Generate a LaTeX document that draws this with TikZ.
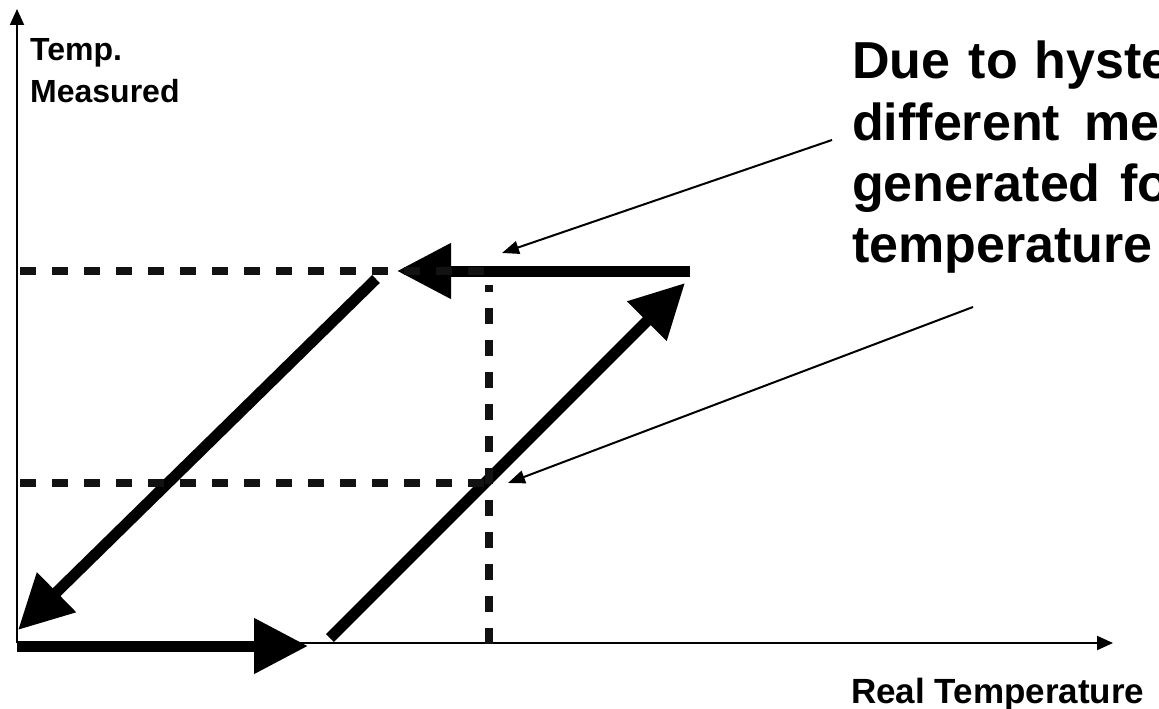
\documentclass[tikz,border=0pt]{standalone}
\usepackage{fontspec}
\setmainfont{Liberation Sans}
\usetikzlibrary{arrows.meta}
\begin{document}
\begin{tikzpicture}[x=1pt,y=-1pt,
  axis/.style={line width=2pt,-{Triangle[length=16pt,width=14pt]}},
  bigarrow/.style={line width=11pt,-{Triangle[length=54pt,width=53pt]}},
  guide/.style={line width=8pt,dash pattern=on 16pt off 16pt,black!93},
  callout/.style={line width=2pt,-{Triangle[length=17pt,width=13pt]}},
  small/.style={font=\bfseries\fontsize{32}{42}\selectfont,anchor=base west,inner sep=0pt},
  big/.style={font=\bfseries\fontsize{52}{61}\selectfont,anchor=base west,inner sep=0pt},
  axlabel/.style={font=\bfseries\fontsize{35}{42}\selectfont,anchor=base west,inner sep=0pt},
]
\useasboundingbox (0,0) rectangle (1159,709);
% coordinates
\coordinate (O) at (17,643);
\coordinate (Ytop) at (17,9);
\coordinate (Xend) at (1113,643);
\coordinate (b1) at (17,646);
\coordinate (b2) at (308,646);
\coordinate (u1) at (330,638);
\coordinate (u2) at (685,283);
\coordinate (t1) at (690,271);
\coordinate (t2) at (397,271);
\coordinate (d1) at (376,279);
\coordinate (d2) at (18,630);
\coordinate (h1s) at (20,271);
\coordinate (h1e) at (489,271);
\coordinate (h2s) at (20,483);
\coordinate (h2e) at (489,483);
\coordinate (vs) at (489,644);
\coordinate (ve) at (489,285);
\coordinate (c1s) at (832,140);
\coordinate (c1e) at (502,253);
\coordinate (c2s) at (973,307);
\coordinate (c2e) at (508,483);
% axes
\draw[axis] (O) -- (Ytop);
\draw[axis] (O) -- (Xend);
% hysteresis arrows
\draw[bigarrow] (b1) -- (b2);
\draw[bigarrow] (u1) -- (u2);
\draw[bigarrow] (t1) -- (t2);
\draw[bigarrow] (d1) -- (d2);
% guide lines
\draw[guide] (h1s) -- (h1e);
\draw[guide] (h2s) -- (h2e);
\draw[guide] (vs) -- (ve);
% callouts
\draw[callout] (c1s) -- (c1e);
\draw[callout] (c2s) -- (c2e);
% labels
\node[small] (ylab1) at (30,60) {Temp.};
\node[small] (ylab2) at (30,102) {Measured};
\node[axlabel] (xlab) at (851,703) {Real Temperature};
\node[big] (n1) at (852,78) {Due \hspace{4pt}to \hspace{2pt}hyste};
\node[big] (n2) at (852,140) {different \hspace{10pt}me};
\node[big] (n3) at (852,201) {generated \hspace{5pt}fo};
\node[big] (n4) at (852,262) {temperature};
\end{tikzpicture}
\end{document}
